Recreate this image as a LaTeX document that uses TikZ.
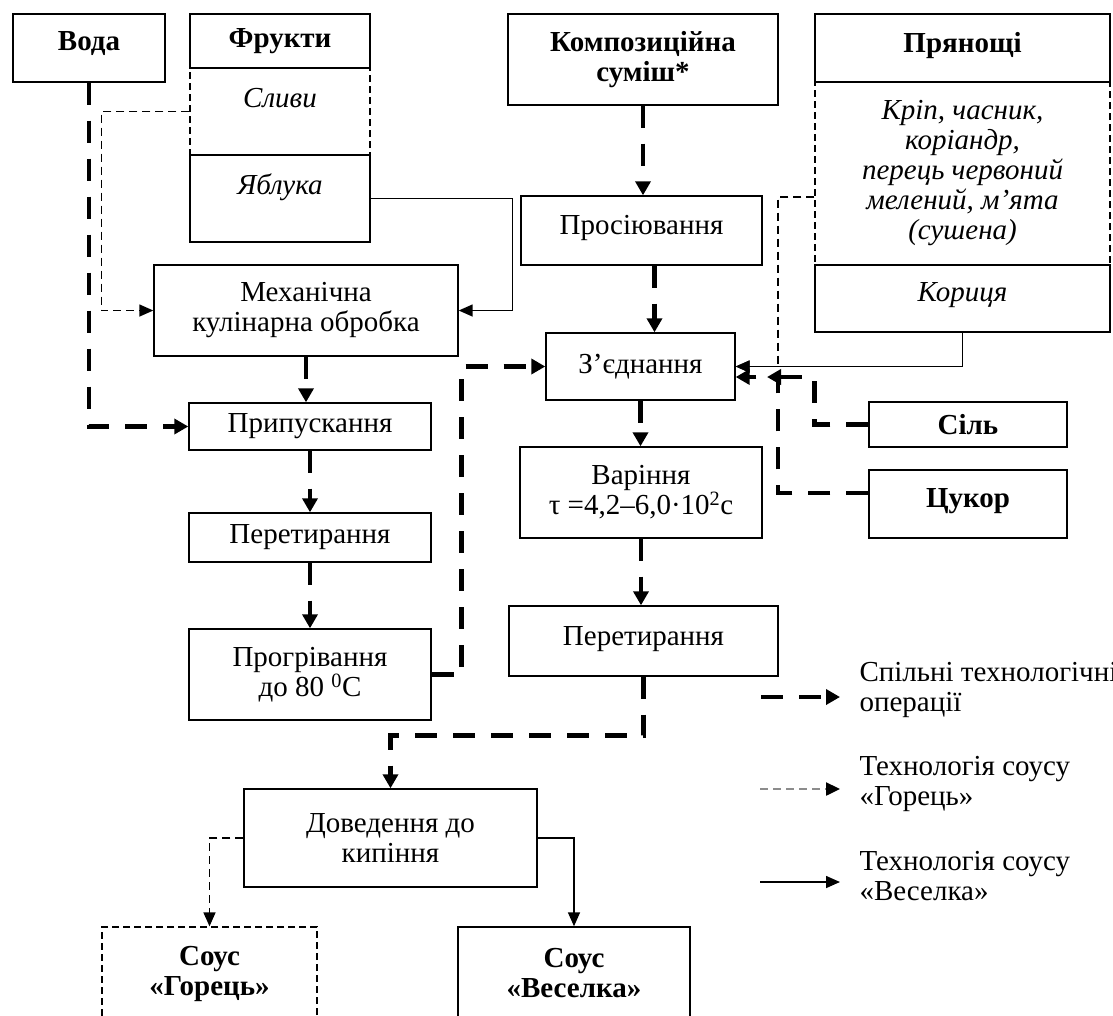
\documentclass[tikz,border=0pt]{standalone}
\usepackage{fontspec}
\setmainfont{Liberation Serif}
\usetikzlibrary{arrows.meta}
\newcommand{\mainsize}{\fontsize{29}{30}\selectfont}

\begin{document}
\begin{tikzpicture}[x=1pt, y=-1pt,
    box/.style={draw, line width=1.4pt, align=center, inner sep=2pt, font=\mainsize},
    hdrbox/.style={box, font=\mainsize\bfseries},
    ingrbox/.style={box, font=\mainsize\itshape},
    gorbox/.style={line width=1.3pt, dash pattern=on 7pt off 4pt},
    sz/.style 2 args={minimum width=#1pt, minimum height=#2pt},
    common/.style={line width=4.5pt, dash pattern=on 22pt off 16pt,
                   -{Triangle[length=14pt,width=15pt]}},
    gorets/.style={line width=1.5pt, dash pattern=on 8pt off 5pt,
                   -{Triangle[length=14pt,width=12pt]}},
    veselka/.style={line width=1.5pt, -{Triangle[length=14pt,width=12pt]}},
    legtext/.style={anchor=west, align=left, font=\mainsize}
  ]
    \useasboundingbox (0,0) rectangle (1113,1015);

    % Raw materials
    \node[hdrbox, sz={152}{68}, text depth=14pt] (voda) at (89,48) {Вода};
    \node[ingrbox, gorbox, sz={180}{87}, text depth=28pt] (slyvy) at (280,111.5) {Сливи};
    \node[hdrbox, sz={180}{54}] (frukty) at (280,41) {Фрукти};
    \node[ingrbox, sz={180}{87}, text depth=28pt] (yabluka) at (280,198.5) {Яблука};

    \node[hdrbox, sz={270}{91}] (sumish) at (643,59.5) {Композиційна\\суміш*};

    \node[ingrbox, gorbox, sz={295}{183}] (spices) at (962.5,173.5)
      {Кріп, часник,\\коріандр,\\перець червоний\\мелений, м’ята\\(сушена)};
    \node[hdrbox, sz={295}{68}, text depth=12pt] (pryan) at (962.5,48) {Прянощі};
    \node[ingrbox, sz={295}{67}, text depth=14pt] (koryca) at (962.5,298.5) {Кориця};

    % Operations
    \node[box, sz={241}{69}, text depth=12pt] (prosiyu) at (641.5,230.5) {Просіювання};
    \node[box, sz={304}{91}] (mech) at (306,310.5) {Механічна\\кулінарна обробка};
    \node[box, sz={189}{67}] (zyedn) at (640.5,366.5) {З’єднання};
    \node[box, sz={242}{47}] (prypusk) at (310,426.5) {Припускання};
    \node[hdrbox, sz={198}{45}] (sil) at (968,424.5) {Сіль};
    \node[box, sz={242}{91}] (varinnya) at (641,492.5) {Варіння\\τ =4,2–6,0·10\textsuperscript{2}с};
    \node[hdrbox, sz={198}{68}, text depth=12pt] (tsukor) at (968,504) {Цукор};
    \node[box, sz={242}{49}] (peretyr1) at (310,537.5) {Перетирання};
    \node[box, sz={269}{70}, text depth=10pt] (peretyr2) at (643.5,641) {Перетирання};
    \node[box, sz={242}{91}] (progriv) at (310,674.5) {Прогрівання\\до 80 \textsuperscript{0}С};
    \node[box, sz={293}{98}] (doved) at (390.5,838) {Доведення до\\кипіння};

    % Products
    \node[hdrbox, gorbox, sz={215}{93}] (sousg) at (209.5,973.5) {Соус\\«Горець»};
    \node[hdrbox, sz={232}{93}] (sousv) at (574,973.5) {Соус\\«Веселка»};

    \coordinate (kjoin) at (778,366.5);
    \coordinate (zjoin) at (778,377);
    \coordinate (silend) at (767,377);

    % Common operations
    \draw[common] (voda.south) |- (prypusk.west);
    \draw[common] (mech.south) -- (mech.south |- prypusk.north);
    \draw[common] (prypusk) -- (peretyr1);
    \draw[common] (peretyr1) -- (progriv);
    \draw[common] (progriv.east) -- ++(30,0) |- (zyedn.west);
    \draw[common] (sumish.south) -- (sumish.south |- prosiyu.north);
    \draw[common] ([xshift=13pt]prosiyu.south) -- ([xshift=13pt]prosiyu.south |- zyedn.north);
    \draw[common] (zyedn.south) -- (zyedn.south |- varinnya.north);
    \draw[common] (varinnya.south) -- (varinnya.south |- peretyr2.north);
    \draw[common] (peretyr2.south) -- ++(0,59) -| (doved.north);
    \draw[common] (sil.west) -- ++(-54,0) |- (silend);
    \draw[common] ([yshift=11pt]tsukor.west) -| (zjoin) -- (zjoin -| zyedn.east);

    % Sauce "Horets"
    \draw[gorets] (slyvy.west) -- ++(-88,0) |- (mech.west);
    \draw[gorets] ([yshift=-23.5pt]spices.west) -| (kjoin) -- (zyedn.east);
    \draw[gorets] (doved.west) -| (sousg.north);

    % Sauce "Veselka"
    \draw[veselka] (yabluka.east) -- ++(142,0) |- (mech.east);
    \draw[veselka] (koryca.south) |- (zyedn.east);
    \draw[veselka] (doved.east) -| (sousv.north);

    % Legend
    \coordinate (l1a) at (761,697);  \coordinate (l1b) at (840,697);
    \coordinate (l2a) at (760,789);  \coordinate (l2b) at (840,789);
    \coordinate (l3a) at (760,882);  \coordinate (l3b) at (840,882);
    \draw[common] (l1a) -- (l1b);
    \draw[gorets, line width=2.4pt, draw=black!45,
          -{Triangle[length=14pt,width=13pt,color=black]}] (l2a) -- (l2b);
    \draw[veselka] (l3a) -- (l3b);
    \node[legtext] (leg1) at (856,690) {Спільні технологічні\\операції};
    \node[legtext] (leg2) at (856,783.5) {Технологія соусу\\«Горець»};
    \node[legtext] (leg3) at (856,876) {Технологія соусу\\«Веселка»};
  \end{tikzpicture}
\end{document}
